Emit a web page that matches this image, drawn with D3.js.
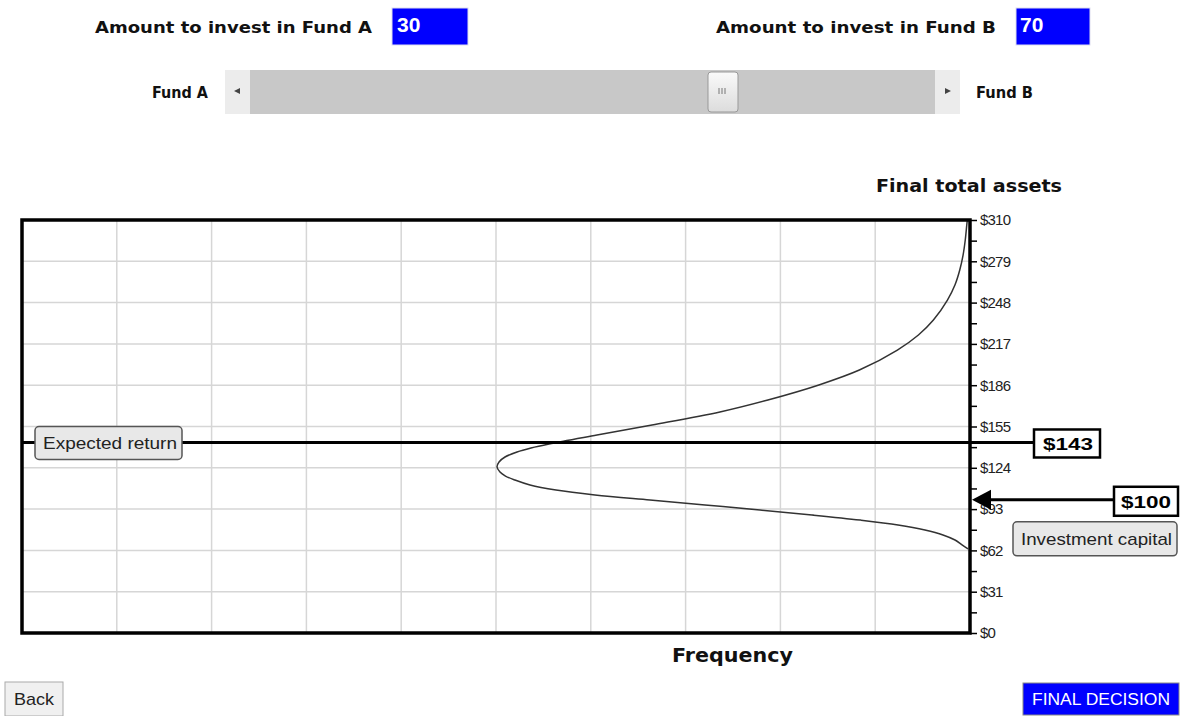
<!DOCTYPE html>
<html><head><meta charset="utf-8">
<script src="https://cdn.jsdelivr.net/npm/d3@7/dist/d3.min.js"></script>
<style>
body{margin:0;background:#fff;}
svg{display:block;font-family:"Liberation Sans",Arial,sans-serif;}
</style></head>
<body>
<svg id="c" width="1181" height="716"></svg>
<script>
// ---- data ----
const fundA = 30;
const fundB = 70;
const yTicks = [0,31,62,93,124,155,186,217,248,279,310];
const assetValues =     [310,307.7,295.0,283.7,272.5,261.2,249.9,234.9,223.7,212.4,197.4,186.2,174.9,165.9,156.1,148.6,141.9,138.9,135.9,132.1,128.4,124.6,120.8,117.8,114.8,111.1,107.3,103.6,99.8,96.1,92.3,88.6,84.8,81.1,77.3,73.6,69.8,66.1,63.1];
const frequencyValues = [0.028,0.032,0.050,0.073,0.108,0.159,0.238,0.386,0.544,0.766,1.167,1.594,2.132,2.638,3.354,3.935,4.441,4.631,4.778,4.905,4.968,4.989,4.958,4.900,4.800,4.641,4.367,3.956,3.376,2.795,2.215,1.667,1.160,0.759,0.475,0.285,0.158,0.084,0.021];
const expectedReturn = 143;
const investmentCapital = 100;
const freqGrid = [1,2,3,4,5,6,7,8,9];

const svg = d3.select("#c");
const L = 22, R = 970, T = 220, B = 633;
const y = d3.scaleLinear().domain([0,310]).range([B,T]);
const x = d3.scaleLinear().domain([0,10]).range([R,L]);
const BOLD = "'DejaVu Sans',Verdana,sans-serif";

function label(px,py,txt,size,len,opts={}){
  const t = svg.append("text").attr("x",px).attr("y",py).attr("font-size",size)
    .attr("font-weight",opts.weight||"bold").attr("fill",opts.fill||"#111")
    .attr("font-family",opts.family||BOLD).text(txt);
  if(len) t.attr("textLength",len).attr("lengthAdjust","spacingAndGlyphs");
  if(opts.anchor) t.attr("text-anchor",opts.anchor);
  return t;
}

// ---- header ----
label(95,33,"Amount to invest in Fund A",16,277);
svg.append("rect").attr("x",392).attr("y",8).attr("width",76).attr("height",37).attr("fill","#0000ff").attr("stroke","#dde").attr("stroke-width",1);
label(397,32,fundA,21,null,{fill:"#fff",family:"'Liberation Sans',Arial,sans-serif"});
label(716,33,"Amount to invest in Fund B",16,280);
svg.append("rect").attr("x",1016).attr("y",8).attr("width",74).attr("height",37).attr("fill","#0000ff").attr("stroke","#dde").attr("stroke-width",1);
label(1020,32,fundB,21,null,{fill:"#fff",family:"'Liberation Sans',Arial,sans-serif"});

// slider
label(152,98,"Fund A",15,56);
label(976,98,"Fund B",15,57);
svg.append("rect").attr("x",225).attr("y",70).attr("width",735).attr("height",44).attr("fill","#ececec");
svg.append("rect").attr("x",250).attr("y",70).attr("width",685).attr("height",44).attr("fill","#c8c8c8");
svg.append("path").attr("d","M240,88 L234,91 L240,94 Z").attr("fill","#444");
svg.append("path").attr("d","M945,88 L951,91 L945,94 Z").attr("fill","#444");
const grad = svg.append("defs").append("linearGradient").attr("id","tg").attr("x1",0).attr("y1",0).attr("x2",0).attr("y2",1);
grad.append("stop").attr("offset","0").attr("stop-color","#fafafa");
grad.append("stop").attr("offset","1").attr("stop-color","#dcdcdc");
svg.append("rect").attr("x",708).attr("y",72).attr("width",30).attr("height",40).attr("rx",3).attr("fill","url(#tg)").attr("stroke","#999");
[719,722,725].forEach(gx=>svg.append("line").attr("x1",gx).attr("x2",gx).attr("y1",88).attr("y2",94).attr("stroke","#777").attr("stroke-width",1));

// ---- chart ----
label(876,192,"Final total assets",18,186);

// gridlines
svg.append("g").selectAll("line").data(yTicks.slice(1,-1)).join("line")
  .attr("x1",L).attr("x2",R).attr("y1",d=>y(d)).attr("y2",d=>y(d)).attr("stroke","#d6d6d6").attr("stroke-width",1.5);
svg.append("g").selectAll("line").data(freqGrid).join("line")
  .attr("x1",d=>x(d)).attr("x2",d=>x(d)).attr("y1",T).attr("y2",B).attr("stroke","#d6d6d6").attr("stroke-width",1.5);

// curve
const line = d3.line().x((d,i)=>x(frequencyValues[i])).y(d=>y(d)).curve(d3.curveCatmullRom.alpha(0.5));
svg.append("path").attr("d",line(assetValues)).attr("fill","none").attr("stroke","#333").attr("stroke-width",1.5);

// frame
svg.append("rect").attr("x",L).attr("y",T).attr("width",R-L).attr("height",B-T).attr("fill","none").attr("stroke","#000").attr("stroke-width",3.5);

// axis
const minor = d3.range(15.5,310,31);
const axMinor = d3.axisRight(y).tickValues(minor).tickSize(7).tickFormat("");
const gMin = svg.append("g").attr("transform",`translate(${R},0)`).call(axMinor);
const ax = d3.axisRight(y).tickValues(yTicks).tickSize(7).tickPadding(3).tickFormat(d=>"$"+d);
const gAx = svg.append("g").attr("transform",`translate(${R},0)`).call(ax);
[gMin,gAx].forEach(g=>{g.select(".domain").remove(); g.selectAll(".tick line").attr("stroke","#000").attr("stroke-width",1.5);});
gAx.selectAll(".tick text").attr("font-size",15).attr("fill","#222").attr("font-family","'Liberation Sans',Arial,sans-serif").attr("letter-spacing","-0.8");

// expected return line
const ey = y(expectedReturn);
svg.append("line").attr("x1",L).attr("x2",1035).attr("y1",ey).attr("y2",ey).attr("stroke","#000").attr("stroke-width",3);
svg.append("rect").attr("x",1034).attr("y",ey-13).attr("width",66).attr("height",28).attr("fill","#fff").attr("stroke","#000").attr("stroke-width",2.5);
label(1043,ey+8,"$"+expectedReturn,17,50,{fill:"#000",family:"'Liberation Sans',Arial,sans-serif"});
svg.append("rect").attr("x",35).attr("y",ey-16).attr("width",147).attr("height",33).attr("rx",4).attr("fill","#e8e8e8").attr("stroke","#555").attr("stroke-width",1.5);
label(43,ey+7,"Expected return",17,134,{weight:"normal",fill:"#222",family:"'Liberation Sans',Arial,sans-serif"});

// investment capital arrow
const iy = y(investmentCapital);
svg.append("line").attr("x1",988).attr("x2",1115).attr("y1",iy).attr("y2",iy).attr("stroke","#000").attr("stroke-width",3);
svg.append("path").attr("d",`M${R+2},${iy} L${R+21},${iy-10} L${R+21},${iy+10} Z`).attr("fill","#000");
svg.append("rect").attr("x",1114).attr("y",iy-13).attr("width",64).attr("height",29).attr("fill","#fff").attr("stroke","#000").attr("stroke-width",2.5);
label(1121,iy+8,"$"+investmentCapital,17,50,{fill:"#000",family:"'Liberation Sans',Arial,sans-serif"});
svg.append("rect").attr("x",1013).attr("y",iy+22).attr("width",164).attr("height",34).attr("rx",4).attr("fill","#e8e8e8").attr("stroke","#555").attr("stroke-width",1.5);
label(1021,iy+45,"Investment capital",17,151,{weight:"normal",fill:"#222",family:"'Liberation Sans',Arial,sans-serif"});

// x label
label(672,662,"Frequency",20,121);

// buttons
svg.append("rect").attr("x",5).attr("y",682).attr("width",58).attr("height",34).attr("fill","#f0f0f0").attr("stroke","#aaa");
label(14,705,"Back",17,40,{weight:"normal",fill:"#222",family:"'Liberation Sans',Arial,sans-serif"});
svg.append("rect").attr("x",1023).attr("y",683).attr("width",156).attr("height",32).attr("fill","#0000ff").attr("stroke","#888");
label(1032,705,"FINAL DECISION",16,138,{weight:"normal",fill:"#fff",family:"'Liberation Sans',Arial,sans-serif"});
</script>
</body></html>
